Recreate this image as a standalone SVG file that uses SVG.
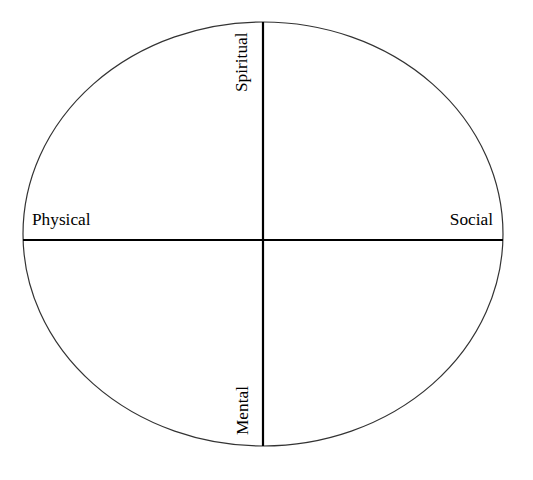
<svg xmlns="http://www.w3.org/2000/svg" width="533" height="480" viewBox="0 0 533 480">
<style>
.lbl{font-family:"Liberation Serif","Times New Roman",serif;font-size:17.3px;fill:#000}
.ax{stroke:#000;stroke-width:2.2;fill:none}
</style>
<rect width="533" height="480" fill="#fff"/>
<g id="circle"><ellipse cx="263" cy="234" rx="240" ry="212" fill="none" stroke="#333" stroke-width="1.2"/></g>
<g id="connectors">
<line class="ax" x1="263" y1="22" x2="263" y2="446"/>
<line class="ax" x1="23" y1="240" x2="503" y2="240"/>
</g>
<g id="spiritual"><text class="lbl" transform="translate(246.5,92) rotate(-90)">Spiritual</text></g>
<g id="physical"><text class="lbl" x="32" y="225">Physical</text></g>
<g id="social"><text class="lbl" x="493" y="225" text-anchor="end">Social</text></g>
<g id="mental"><text class="lbl" transform="translate(248,435) rotate(-90)">Mental</text></g>
</svg>
